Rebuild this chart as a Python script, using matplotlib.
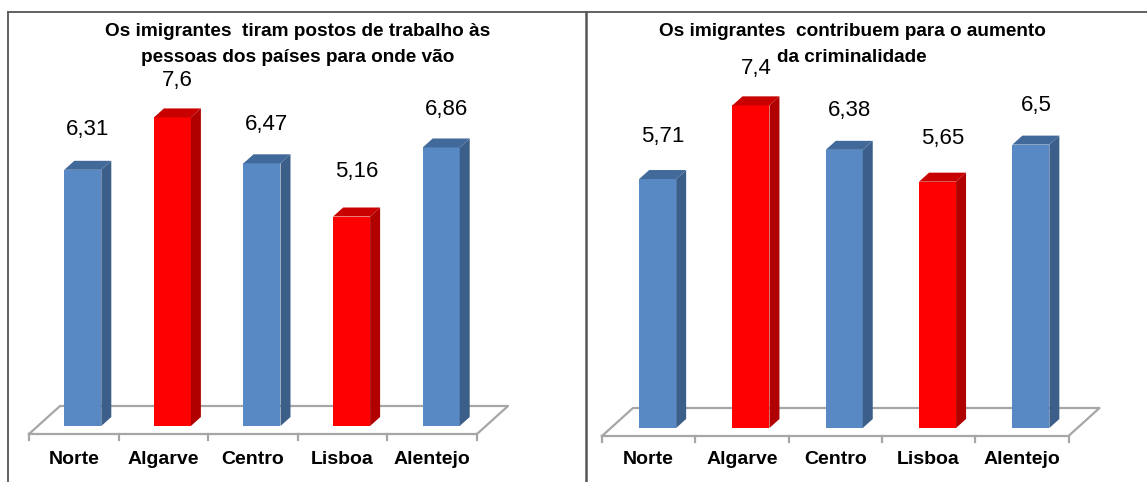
import matplotlib
matplotlib.use('Agg')
import matplotlib.pyplot as plt
from matplotlib.patches import Polygon
from matplotlib.lines import Line2D

# data
regions = ['Norte', 'Algarve', 'Centro', 'Lisboa', 'Alentejo']
jobs = [6.31, 7.6, 6.47, 5.16, 6.86]
crime = [5.71, 7.4, 6.38, 5.65, 6.5]
highlight = [False, True, False, True, False]
labels_jobs = ['6,31', '7,6', '6,47', '5,16', '6,86']
labels_crime = ['5,71', '7,4', '6,38', '5,65', '6,5']
title_jobs = ['Os imigrantes  tiram postos de trabalho às', 'pessoas dos países para onde vão']
title_crime = ['Os imigrantes  contribuem para o aumento', 'da criminalidade']

W, H = 1147, 482
plt.rcParams['font.family'] = ['Liberation Sans', 'DejaVu Sans']

BLUE = ('#5889C4', '#3C5F89', '#41699A')
RED = ('#FF0000', '#B00000', '#C80000')


def panel(fig, box, front_left, spacing, base_px, ppu, values, labels, title, title_x):
    # box: (left, top, right, bottom) in pixels
    L, T, R, B = box
    ax = fig.add_axes([L / W, 1 - B / H, (R - L) / W, (B - T) / H])
    c0 = front_left + spacing / 2
    ax.set_xlim((L - c0) / spacing, (R - c0) / spacing)
    ax.set_ylim((base_px - B) / ppu, (base_px - T) / ppu)
    ax.axis('off')

    # pixel -> data helpers for sizes
    px = lambda p: p / spacing
    py = lambda p: p / ppu

    # floor
    front_y = -py(8)
    back_y = py(20)
    shift = px(31)
    floor = [(-0.5, front_y), (4.5, front_y), (4.5 + shift, back_y), (-0.5 + shift, back_y), (-0.5, front_y)]
    ax.plot(*zip(*floor), color='#A6A6A6', lw=1.6, clip_on=False)
    for i in range(6):
        ax.plot([i - 0.5, i - 0.5], [front_y, front_y - py(6)], color='#A6A6A6', lw=1.6)

    bw = px(37)
    dx, dy = px(10), py(9)
    off = px(9)
    x = [i + off for i in range(len(values))]
    cols = [RED if h else BLUE for h in highlight]
    ax.bar(x, values, width=bw, color=[c[0] for c in cols], zorder=3)
    for xi, v, c, lab in zip(x, values, cols, labels):
        r = xi + bw / 2
        l = xi - bw / 2
        ax.add_patch(Polygon([(r, 0), (r + dx, dy), (r + dx, v + dy), (r, v)], closed=True,
                             facecolor=c[1], edgecolor='none', zorder=3))
        ax.add_patch(Polygon([(l, v), (r, v), (r + dx, v + dy), (l + dx, v + dy)], closed=True,
                             facecolor=c[2], edgecolor='none', zorder=3))
        # labels sit a bit closer to taller bars (perspective of the 3D chart)
        gap = max(37, 45 - 4.5 * (v - 5.2))
        ax.text(xi + dx / 2, v + py(gap), lab, ha='center', va='center', fontsize=16)

    for i, name in enumerate(regions):
        ax.text(i, (base_px - 459) / ppu, name, ha='center', va='center',
                fontsize=14, fontweight='bold')

    for line, ty in zip(title, [32, 57]):
        fig.text(title_x / W, 1 - ty / H, line, ha='center', va='center', fontsize=13.7,
                 fontweight='bold')
    return ax


fig = plt.figure(figsize=(W / 100, H / 100), dpi=100)

panel(fig, (8, 12, 585, 482), 29, 89.6, 426, 40.6, jobs, labels_jobs, title_jobs, 298)
panel(fig, (586, 12, 1147, 482), 602, 93.3, 428, 43.6, crime, labels_crime, title_crime, 852)

# panel borders
border = '#555555'
fig.add_artist(Line2D([8 / W, 1], [1 - 12 / H, 1 - 12 / H], color=border, lw=1.3))
fig.add_artist(Line2D([8 / W, 8 / W], [0, 1 - 12 / H], color=border, lw=1.3))
fig.add_artist(Line2D([585.5 / W, 585.5 / W], [0, 1 - 12 / H], color=border, lw=1.8))

fig.savefig('out.png', dpi=100)
